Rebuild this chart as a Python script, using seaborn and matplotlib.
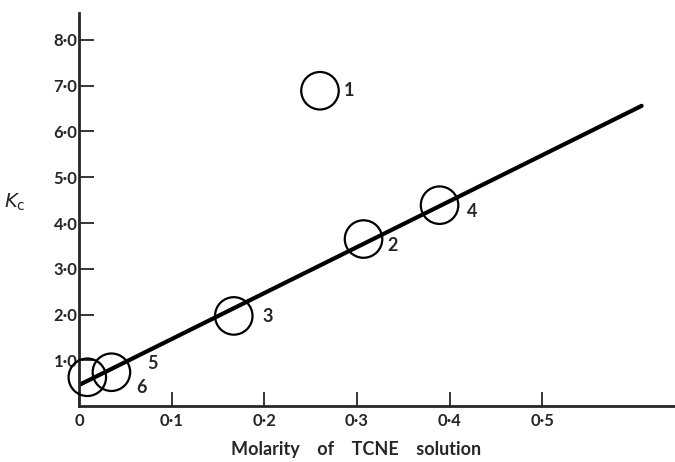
import matplotlib
matplotlib.use("Agg")
import matplotlib.pyplot as plt
import seaborn as sns
import pandas as pd

# ----------------------------------
# Daten
# ----------------------------------

point_ids = ["1", "2", "3", "4", "5", "6"]
molarity = [0.260, 0.307, 0.167, 0.389, 0.035, 0.009]
k_values = [6.89, 3.65, 1.97, 4.39, 0.74, 0.63]

fit_x = [0.0, 0.607]
fit_y = [0.46, 6.56]

x_ticks = [0, 0.1, 0.2, 0.3, 0.4, 0.5]
x_tick_labels = ["0", "0·1", "0·2", "0·3", "0·4", "0·5"]
y_ticks = [1, 2, 3, 4, 5, 6, 7, 8]
y_tick_labels = ["1·0", "2·0", "3·0", "4·0", "5·0", "6·0", "7·0", "8·0"]

# label offsets in pixels (right / down)
label_offsets = [(29, 0), (29, -6), (34, -1), (33, -6), (41, 9), (54, -10)]

df = pd.DataFrame({"id": point_ids, "molarity": molarity, "k": k_values})
fit_df = pd.DataFrame({"x": fit_x, "y": fit_y})

# ----------------------------------
# Plot
# ----------------------------------

sns.set_style("ticks")
plt.rcParams["font.family"] = ["Lato", "DejaVu Sans"]

fig = plt.figure(figsize=(6.75, 4.62), dpi=100)
ax = fig.add_axes([0.117, 0.121, 0.883, 0.851])

sns.lineplot(data=fit_df, x="x", y="y", color="black", linewidth=3.0, ax=ax)
sns.scatterplot(data=df, x="molarity", y="k", marker="o", s=27 ** 2,
                facecolor="none", edgecolor="black", linewidth=1.6, ax=ax,
                zorder=3, clip_on=False)

for pid, mx, ky, (dx, dy) in zip(point_ids, molarity, k_values, label_offsets):
    ax.annotate(pid, (mx, ky), xytext=(dx, dy), textcoords="offset pixels",
                ha="center", va="center", fontsize=13, fontweight="bold")

ax.set_xlim(0, 0.643)
ax.set_ylim(0, 8.59)

ax.set_xticks(x_ticks)
ax.set_xticklabels(x_tick_labels, fontsize=12, fontweight="bold")
ax.set_yticks(y_ticks)
ax.set_yticklabels(y_tick_labels, fontsize=12, fontweight="bold")
ax.tick_params(axis="x", direction="in", length=10, width=1.3, pad=5)
ax.tick_params(axis="y", direction="in", length=11, width=1.3, pad=1)

for side in ["top", "right"]:
    ax.spines[side].set_visible(False)
for side in ["left", "bottom"]:
    ax.spines[side].set_linewidth(2.0)

ax.set_xlabel("Molarity    of    TCNE    solution", fontsize=13,
              fontweight="bold")
ax.xaxis.set_label_coords(0.465, -0.09)
ax.set_ylabel(r"$K_{\rm c}$", fontsize=14, rotation=0)
ax.yaxis.set_label_coords(-0.107, 0.49)

fig.savefig("out.png", dpi=100)
plt.close(fig)
